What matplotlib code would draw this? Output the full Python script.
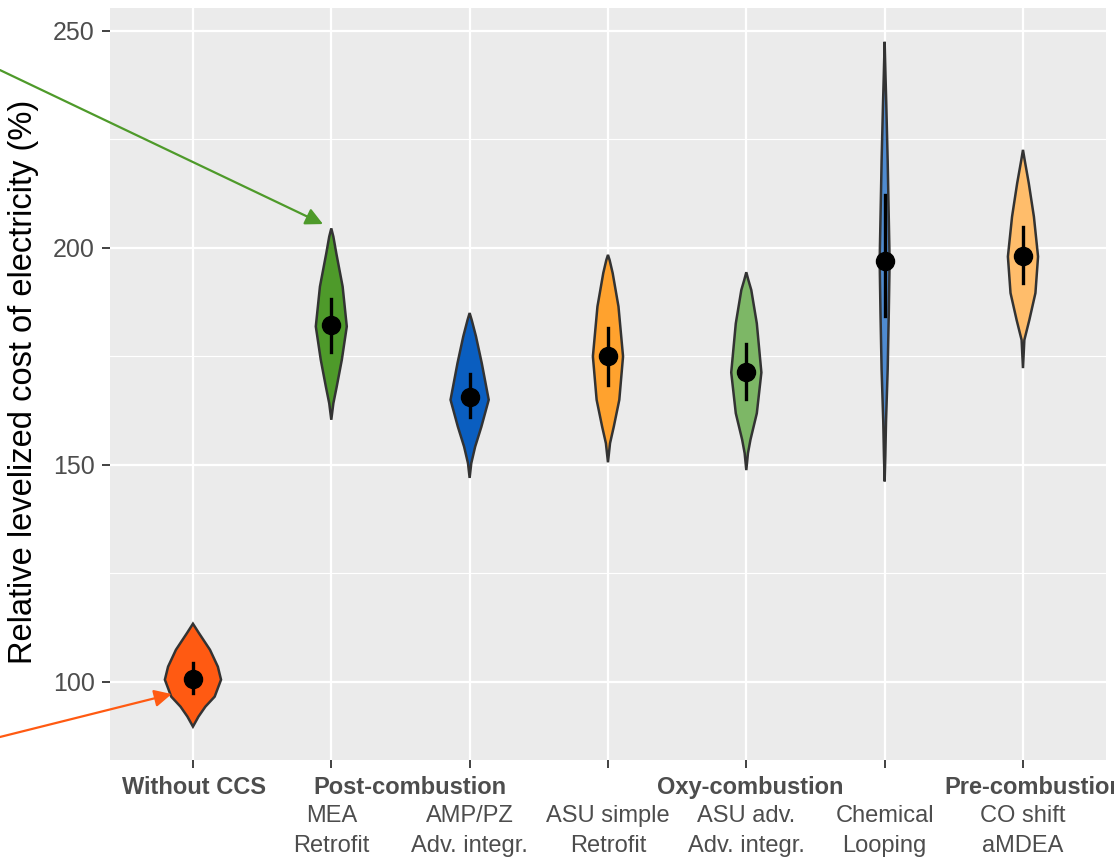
import numpy as np
import matplotlib
matplotlib.use("Agg")
import matplotlib.pyplot as plt

plt.rcParams['font.family'] = ['Liberation Sans', 'DejaVu Sans']

# categories (x order) and labels
categories = ["Without CCS", "MEA", "AMP/PZ", "ASU simple", "ASU adv.", "Chemical Looping", "CO shift"]
label_line1 = ["", "MEA", "AMP/PZ", "ASU simple", "ASU adv.", "Chemical", "CO shift"]
label_line2 = ["", "Retrofit", "Adv. integr.", "Retrofit", "Adv. integr.", "Looping", "aMDEA"]
groups = ["Without CCS", "Post-combustion", "Oxy-combustion", "Pre-combustion"]
group_pos = [1.01, 2.57, 5.03, 7.08]

# median and inner line (quartile-ish range)
medians = [100.7, 182.2, 165.7, 175.0, 171.4, 197.0, 198.1]
line_low = [97.4, 176.1, 161.0, 168.4, 165.1, 184.2, 191.9]
line_high = [104.3, 188.3, 171.0, 181.5, 177.9, 212.2, 204.9]

# violin outlines: values and half widths (x units)
v_without = [89.7, 92.0, 94.3, 96.6, 100.5, 103.5, 107.4, 111.3, 113.4]
w_without = [0.0, 0.04, 0.09, 0.157, 0.203, 0.18, 0.123, 0.042, 0.0]
v_mea = [160.4, 164.2, 168.0, 174.2, 181.9, 191.1, 198.8, 202.6, 204.5]
w_mea = [0.0, 0.015, 0.039, 0.076, 0.112, 0.082, 0.036, 0.015, 0.0]
v_amp = [147.0, 150.4, 154.2, 158.8, 165.0, 173.4, 179.6, 183.4, 185.0]
w_amp = [0.0, 0.012, 0.04, 0.085, 0.138, 0.088, 0.046, 0.015, 0.0]
v_asu_s = [150.6, 155.0, 158.8, 165.0, 175.0, 186.5, 194.2, 197.2, 198.4]
w_asu_s = [0.0, 0.015, 0.042, 0.082, 0.109, 0.076, 0.034, 0.012, 0.0]
v_asu_a = [148.8, 152.7, 155.8, 161.9, 171.3, 182.6, 190.3, 192.6, 194.4]
w_asu_a = [0.0, 0.012, 0.03, 0.076, 0.109, 0.076, 0.036, 0.015, 0.0]
v_chem = [146.2, 152.0, 160.0, 172.0, 185.0, 197.0, 210.0, 220.0, 233.0, 240.0, 247.5]
w_chem = [0.0, 0.005, 0.01, 0.022, 0.03, 0.036, 0.028, 0.022, 0.012, 0.006, 0.0]
v_co = [172.3, 178.8, 183.4, 189.6, 198.0, 207.2, 214.9, 220.3, 222.6]
w_co = [0.0, 0.01, 0.046, 0.09, 0.109, 0.079, 0.042, 0.012, 0.0]

violin_values = [v_without, v_mea, v_amp, v_asu_s, v_asu_a, v_chem, v_co]
violin_widths = [w_without, w_mea, w_amp, w_asu_s, w_asu_a, w_chem, w_co]

colors = ["#FF5A12", "#4E9A2A", "#0A5EC0", "#FFA22E", "#7DB766", "#4F8BD0", "#FFBD6B"]

fig = plt.figure(figsize=(11.14, 8.65), dpi=100)
ax = fig.add_axes([0.0987, 0.1214, 0.8941, 0.8694])
ax.set_facecolor("#EBEBEB")
for s in ax.spines.values():
    s.set_visible(False)

pos = np.arange(1, len(categories) + 1)

# grid
ax.set_yticks([100, 150, 200, 250])
ax.set_yticks([125, 175, 225], minor=True)
ax.set_xticks(pos)
ax.grid(which='major', color='white', lw=1.6)
ax.grid(which='minor', axis='y', color='white', lw=0.8)
ax.set_axisbelow(True)
ax.tick_params(axis='y', which='minor', length=0)
ax.tick_params(axis='both', which='major', length=6, width=1.3, color='#333333',
               labelsize=18, labelcolor='#4D4D4D', pad=5)
ax.set_xticklabels([""] * len(categories))

# violins
for i in range(len(categories)):
    v = np.array(violin_values[i])
    w = np.array(violin_widths[i])
    xs = np.concatenate([pos[i] - w, (pos[i] + w)[::-1]])
    ys = np.concatenate([v, v[::-1]])
    ax.fill(xs, ys, facecolor=colors[i], edgecolor='#333333', lw=1.8, zorder=3)
    ax.plot([pos[i], pos[i]], [line_low[i], line_high[i]], color='black', lw=2.4, zorder=4)
    ax.plot(pos[i], medians[i], 'o', color='black', ms=13, zorder=5)

ax.set_xlim(0.4, 7.6)
ax.set_ylim(82.0, 255.3)

ax.set_ylabel("Relative levelized cost of electricity (%)", fontsize=23.5, color='black')
ax.yaxis.set_label_coords(-0.071, 0.503)

# category labels under the axis
for i in range(len(categories)):
    ax.text(pos[i], -0.075, label_line1[i], transform=ax.get_xaxis_transform(),
            ha='center', va='center', fontsize=17, color='#4D4D4D')
    ax.text(pos[i], -0.115, label_line2[i], transform=ax.get_xaxis_transform(),
            ha='center', va='center', fontsize=17, color='#4D4D4D')
for g, gx in zip(groups, group_pos):
    ax.text(gx, -0.037, g, transform=ax.get_xaxis_transform(), ha='center', va='center',
            fontsize=17, fontweight='bold', color='#4D4D4D', clip_on=False)

# arrows coming in from the left edge
ax.annotate("", xy=(1.94, 205.5), xycoords='data', xytext=(0.0, 0.919), textcoords='figure fraction',
            arrowprops=dict(arrowstyle='-|>', color='#4E9A2A', lw=1.6, mutation_scale=26,
                            shrinkA=0, shrinkB=0), annotation_clip=False)
ax.annotate("", xy=(0.846, 97.2), xycoords='data', xytext=(0.0, 0.148), textcoords='figure fraction',
            arrowprops=dict(arrowstyle='-|>', color='#FF5A12', lw=1.6, mutation_scale=26,
                            shrinkA=0, shrinkB=0), annotation_clip=False)

fig.savefig("out.png", dpi=100)
